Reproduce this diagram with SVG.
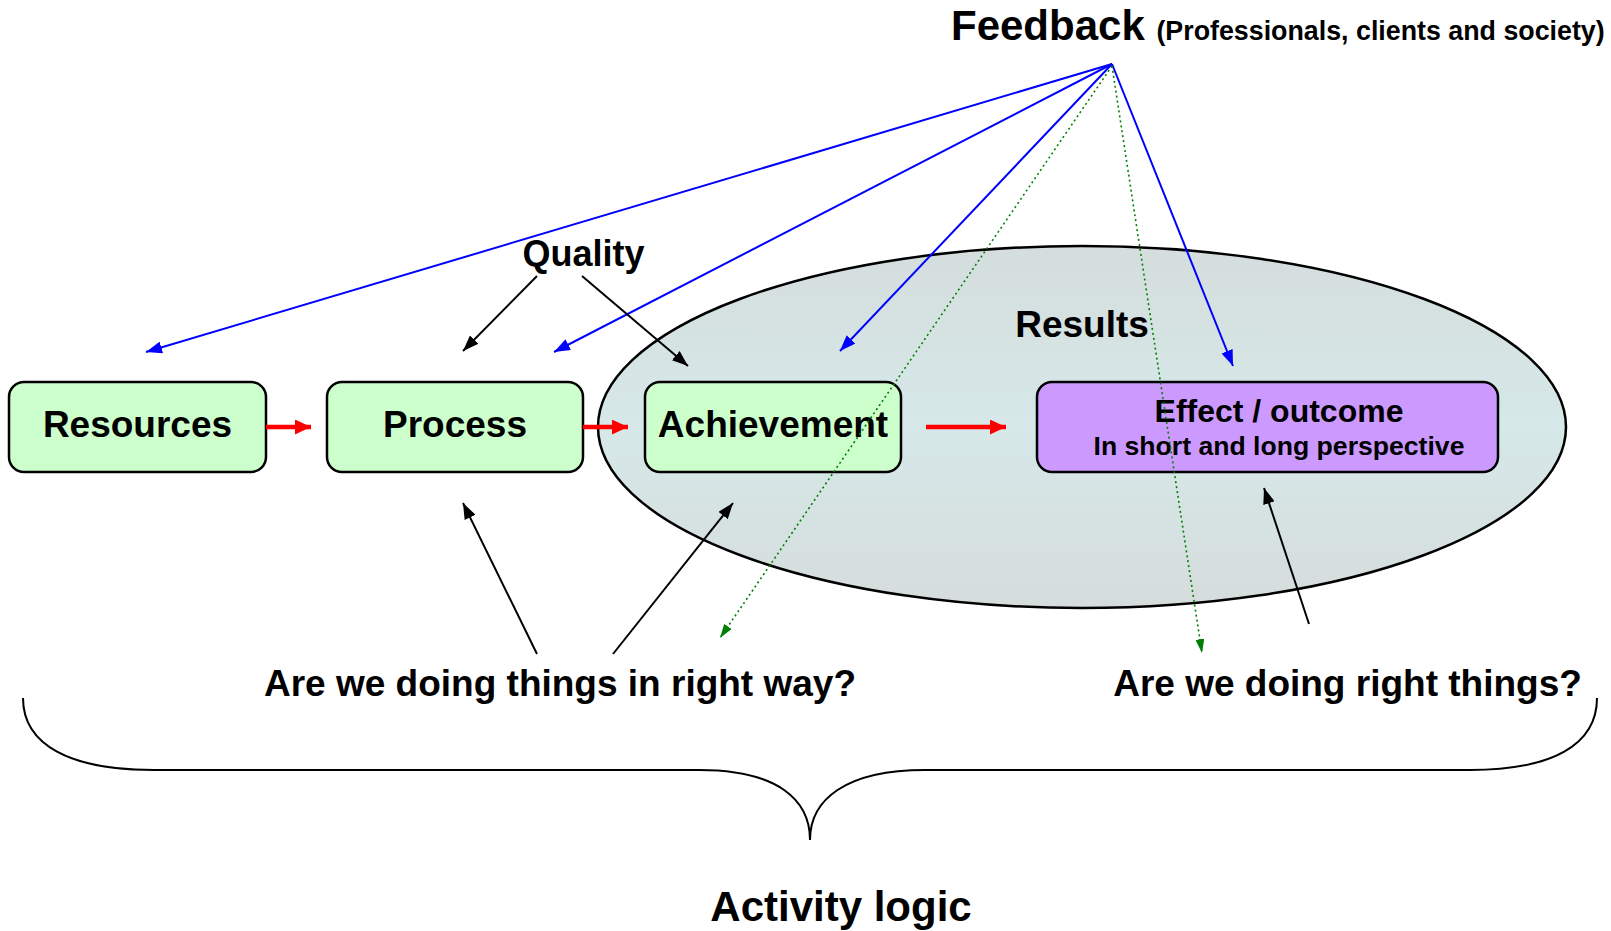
<svg xmlns="http://www.w3.org/2000/svg" width="1611" height="931" viewBox="0 0 1611 931">
<style>
text{font-family:"Liberation Sans",Arial,sans-serif;font-weight:bold;fill:#000}
.box{stroke:#000;stroke-width:2.5}
.green{fill:#ccffcc}
.purple{fill:#cc99ff}
.lbl{font-size:37px;text-anchor:middle}
.blue{stroke:#0000ff;stroke-width:2;fill:none;marker-end:url(#mb)}
.blk{stroke:#000;stroke-width:2;fill:none;marker-end:url(#mk)}
.red{stroke:#ff0000;stroke-width:4.5;fill:none;marker-end:url(#mr)}
.dot{stroke:#008000;stroke-width:1.6;stroke-dasharray:2 3;fill:none;marker-end:url(#mg)}
</style>
<defs>
<linearGradient id="eg" x1="0" y1="0" x2="0" y2="1">
<stop offset="0" stop-color="#d5dddd"/>
<stop offset="0.5" stop-color="#d6e8e8"/>
<stop offset="1" stop-color="#d6dcdc"/>
</linearGradient>
<marker id="mb" markerWidth="16" markerHeight="12" refX="16" refY="6" orient="auto" markerUnits="userSpaceOnUse"><path d="M0,0 L16,6 L0,12 z" fill="#0000ff"/></marker>
<marker id="mk" markerWidth="16" markerHeight="12" refX="16" refY="6" orient="auto" markerUnits="userSpaceOnUse"><path d="M0,0 L16,6 L0,12 z" fill="#000"/></marker>
<marker id="mr" markerWidth="16" markerHeight="15" refX="16" refY="7.5" orient="auto" markerUnits="userSpaceOnUse"><path d="M0,0 L16,7.5 L0,15 z" fill="#ff0000"/></marker>
<marker id="mg" markerWidth="14" markerHeight="9" refX="14" refY="4.5" orient="auto" markerUnits="userSpaceOnUse"><path d="M0,0 L14,4.5 L0,9 z" fill="#008000"/></marker>
</defs>
<rect width="1611" height="931" fill="#fff"/>

<g id="results">
<ellipse cx="1082" cy="427" rx="484" ry="181" fill="url(#eg)" stroke="#000" stroke-width="2.5"/>
<text x="1082" y="337" class="lbl">Results</text>
</g>

<g id="resources">
<rect x="9" y="382" width="257" height="90" rx="15" class="box green"/>
<text x="137.5" y="437" class="lbl">Resources</text>
</g>
<g id="process">
<rect x="327" y="382" width="256" height="90" rx="15" class="box green"/>
<text x="455" y="437" class="lbl">Process</text>
</g>
<g id="achievement">
<rect x="645" y="382" width="256" height="90" rx="15" class="box green"/>
<text x="773" y="437" class="lbl">Achievement</text>
</g>
<g id="effect">
<rect x="1037" y="382" width="461" height="90" rx="15" class="box purple"/>
<text x="1279" y="422" font-size="32" text-anchor="middle">Effect / outcome</text>
<text x="1279" y="455" font-size="26.6" text-anchor="middle">In short and long perspective</text>
</g>

<g id="feedback">
<text x="951" y="40" font-size="42">Feedback <tspan font-size="26.8">(Professionals, clients and society)</tspan></text>
</g>
<g id="quality">
<text x="583.5" y="266" font-size="36" text-anchor="middle">Quality</text>
</g>
<g id="q1">
<text x="560" y="696" class="lbl">Are we doing things in right way?</text>
</g>
<g id="q2">
<text x="1347.5" y="696" class="lbl">Are we doing right things?</text>
</g>
<g id="activity">
<text x="841" y="921" font-size="42" text-anchor="middle">Activity logic</text>
<path d="M23,698 C23,745 70,770 154,770 L699,770 C778,770 810,800 810,840 C810,800 845,770 925,770 L1470,770 C1552,770 1597,745 1597,698" fill="none" stroke="#000" stroke-width="2"/>
</g>

<g id="connectors">
<line x1="266" y1="427" x2="311" y2="427" class="red"/>
<line x1="583" y1="427" x2="628" y2="427" class="red"/>
<line x1="926" y1="427" x2="1006" y2="427" class="red"/>

<line x1="1112" y1="64" x2="146" y2="352" class="blue"/>
<line x1="1112" y1="64" x2="554" y2="352" class="blue"/>
<line x1="1112" y1="64" x2="840" y2="351" class="blue"/>
<line x1="1112" y1="64" x2="1233" y2="366" class="blue"/>

<line x1="1112" y1="66" x2="720" y2="638" class="dot"/>
<line x1="1112" y1="66" x2="1202" y2="653" class="dot"/>

<line x1="537" y1="276" x2="463" y2="351" class="blk"/>
<line x1="582" y1="276" x2="688" y2="366" class="blk"/>

<line x1="537" y1="654" x2="463" y2="503" class="blk"/>
<line x1="613" y1="654" x2="733" y2="503" class="blk"/>
<line x1="1309" y1="624" x2="1264" y2="488" class="blk"/>
</g>
</svg>
